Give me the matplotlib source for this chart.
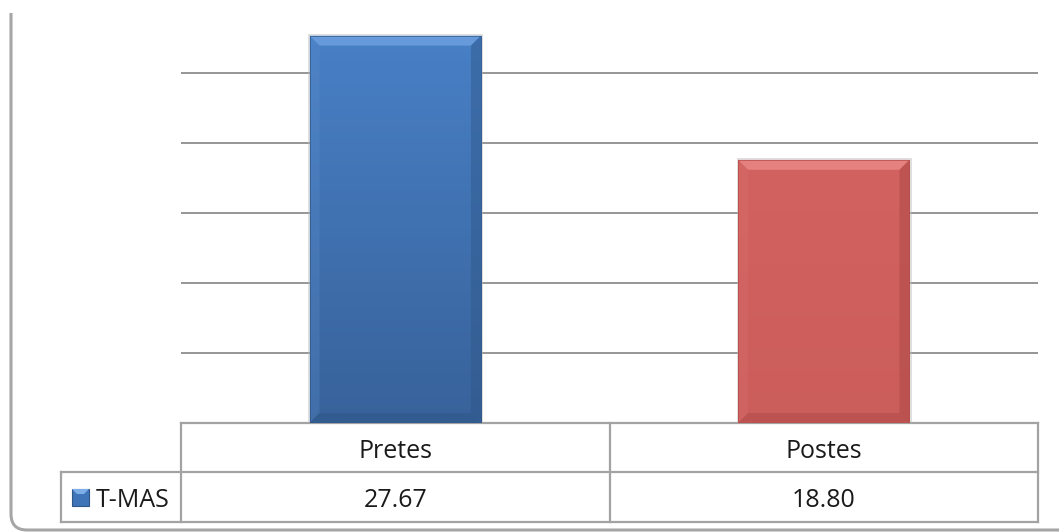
import numpy as np
import matplotlib
matplotlib.use("Agg")
import matplotlib.pyplot as plt
from matplotlib.patches import Rectangle, Polygon, PathPatch
from matplotlib.path import Path
from matplotlib.transforms import blended_transform_factory
from matplotlib.colors import LinearSegmentedColormap

# ---- data ----
categories = ["Pretes", "Postes"]
series_name = "T-MAS"
values = [27.67, 18.80]
value_labels = ["27.67", "18.80"]
y_max = 30
grid_values = [5, 10, 15, 20, 25]

plt.rcParams['font.family'] = ['Open Sans', 'DejaVu Sans']

W, H = 1059, 532
fig = plt.figure(figsize=(W / 100, H / 100), dpi=100)
fig.patch.set_facecolor("white")

# overlay axes in pixel coordinates for frame and table
oax = fig.add_axes([0, 0, 1, 1], zorder=0)
oax.set_xlim(0, W)
oax.set_ylim(H, 0)
oax.axis("off")

ax = fig.add_axes([181 / W, 109 / H, 857 / W, 420 / H], zorder=2)
ax.set_facecolor("none")
ax.set_xlim(-0.5, len(categories) - 0.5)
ax.set_ylim(0, y_max)
for s in ax.spines.values():
    s.set_visible(False)
ax.set_xticks([])
ax.set_yticks([])
for g in grid_values:
    ax.axhline(g, color="#8e8e8e", lw=1.3, zorder=0)

x = np.arange(len(categories))
styles = [
    dict(top="#4880c6", bottom="#38629a", hi="#74a6e4", side_l="#5a8cca", side_r="#2f5788", low="#2d5685"),
    dict(top="#d2625f", bottom="#cb5d5b", hi="#ee908e", side_l="#da7270", side_r="#a84644", low="#b04a48"),
]
bars = ax.bar(x, values, width=0.4, color="none", zorder=3)

fig.canvas.draw()
p0 = ax.transData.transform((0, 0))
p1 = ax.transData.transform((1, 1))
sx = p1[0] - p0[0]
sy = p1[1] - p0[1]
bev = 10.0
dx = bev / sx
dy = bev / sy

for bar, st in zip(bars, styles):
    x0, y0 = bar.get_x(), bar.get_y()
    x1, y1 = x0 + bar.get_width(), y0 + bar.get_height()
    sh = Rectangle((x0 - 1.5 / sx, y0 - 1.5 / sy), (x1 - x0) + 4 / sx, (y1 - y0) + 3 / sy,
                   facecolor="#b8b8b8", alpha=0.45, edgecolor="none", zorder=2.5)
    ax.add_patch(sh)
    cmap = LinearSegmentedColormap.from_list("g", [st["bottom"], st["top"]])
    grad = np.linspace(0, 1, 256).reshape(-1, 1)
    im = ax.imshow(grad, extent=(x0, x1, y0, y1), origin="lower", cmap=cmap,
                   aspect="auto", zorder=3, interpolation="bilinear")
    clip = Rectangle((x0, y0), x1 - x0, y1 - y0, transform=ax.transData)
    im.set_clip_path(clip)
    top = Polygon([(x0, y1), (x1, y1), (x1 - dx, y1 - dy), (x0 + dx, y1 - dy)],
                  closed=True, facecolor=st["hi"], edgecolor="none", alpha=0.7, zorder=4)
    left = Polygon([(x0, y0), (x0, y1), (x0 + dx, y1 - dy), (x0 + dx, y0 + dy)],
                   closed=True, facecolor=st["side_l"], edgecolor="none", alpha=0.3, zorder=4)
    right = Polygon([(x1, y0), (x1, y1), (x1 - dx, y1 - dy), (x1 - dx, y0 + dy)],
                    closed=True, facecolor=st["side_r"], edgecolor="none", alpha=0.45, zorder=4)
    bottom = Polygon([(x0, y0), (x1, y0), (x1 - dx, y0 + dy), (x0 + dx, y0 + dy)],
                     closed=True, facecolor=st["low"], edgecolor="none", alpha=0.5, zorder=4)
    for p in (top, left, right, bottom):
        ax.add_patch(p)
    ax.add_patch(Rectangle((x0, y0), x1 - x0, y1 - y0, facecolor="none",
                           edgecolor=st["low"], lw=0.6, alpha=0.8, zorder=5))

# ---- data table ----
tr = blended_transform_factory(ax.transData, oax.transData)
lc = "#a3a3a3"
lw = 1.6
edges = [-0.5 + i for i in range(len(categories) + 1)]
y_top, y_mid, y_bot = 423, 472, 522
leg_left = 61
tc = "#1a1a1a"

oax.plot([edges[0], edges[-1]], [y_top, y_top], color=lc, lw=lw, transform=tr, zorder=3)
for yy in (y_mid, y_bot):
    xs_right = oax.transData.inverted().transform(tr.transform((edges[-1], yy)))[0]
    oax.plot([leg_left, xs_right], [yy, yy], color=lc, lw=lw, zorder=3)
for e in edges:
    oax.plot([e, e], [y_top, y_bot], color=lc, lw=lw, transform=tr, zorder=3)
oax.plot([leg_left, leg_left], [y_mid, y_bot], color=lc, lw=lw, zorder=3)

for xi, cat, lab in zip(x, categories, value_labels):
    oax.text(xi, 458, cat, transform=tr, ha="center", va="baseline", fontsize=18, color=tc)
    oax.text(xi, 507, lab, transform=tr, ha="center", va="baseline", fontsize=18, color=tc)

# legend key
oax.add_patch(Rectangle((72, 489), 17, 17, facecolor="#3f74b8", edgecolor="#2f5788", lw=0.8, zorder=4))
oax.add_patch(Polygon([(72, 489), (89, 489), (84, 494), (77, 494)], closed=True,
                      facecolor="#7eaee8", edgecolor="none", zorder=5))
oax.text(96, 507, series_name, ha="left", va="baseline", fontsize=18, color=tc)

# outer frame (rounded bottom-left corner)
r = 16
verts = [(11, 13), (11, 530 - r), (11, 530), (11 + r, 530), (W + 5, 530)]
codes = [Path.MOVETO, Path.LINETO, Path.CURVE3, Path.CURVE3, Path.LINETO]
oax.add_patch(PathPatch(Path(verts, codes), facecolor="none", edgecolor="#a6a6a6", lw=2.2, zorder=1))

fig.savefig("out.png", dpi=100, facecolor="white")
